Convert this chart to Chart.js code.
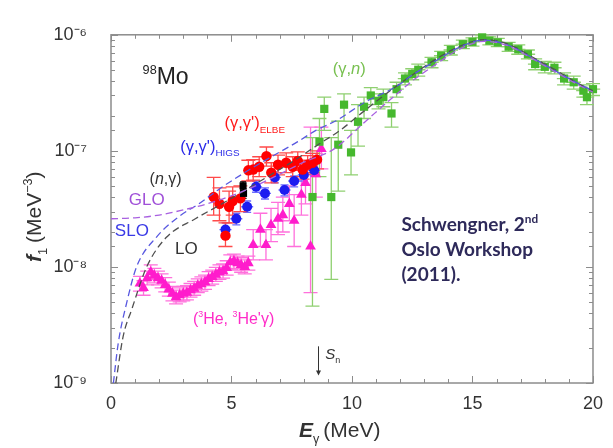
<!DOCTYPE html>
<html><head><meta charset="utf-8">
<script src="https://cdn.jsdelivr.net/npm/chart.js@4.4.1/dist/chart.umd.min.js"></script>
<style>html,body{margin:0;padding:0;background:#fff;}#c{display:block;}</style>
</head><body>
<canvas id="c" width="613" height="448"></canvas>
<script>
// ---------- data ----------
const xTickLabels = [0, 5, 10, 15, 20];
const yTickExps = [-9, -8, -7, -6];

// (gamma,n) photoabsorption
const gnE  = [8.36, 8.65, 8.85, 9.14, 9.43, 9.67, 9.96, 10.25, 10.5, 10.78, 11.1, 11.3, 11.64, 11.85, 12.2, 12.5, 12.75, 13.3, 13.7, 14.1, 14.6, 15.0, 15.4, 15.7, 16.05, 16.5, 16.9, 17.3, 17.6, 18.0, 18.4, 18.8, 19.2, 19.6, 19.75, 20.0];
const gnF  = [4.0e-8, 1.2e-7, 2.3e-7, 4.0e-8, 1.13e-7, 2.5e-7, 9.7e-8, 1.78e-7, 2.4e-7, 3.0e-7, 2.7e-7, 2.9e-7, 2.1e-7, 3.4e-7, 4.2e-7, 4.6e-7, 5.0e-7, 5.8e-7, 6.6e-7, 7.4e-7, 8.3e-7, 8.7e-7, 9.5e-7, 8.9e-7, 8.6e-7, 7.9e-7, 7.5e-7, 6.8e-7, 5.6e-7, 5.3e-7, 5.2e-7, 4.2e-7, 3.9e-7, 3.3e-7, 2.9e-7, 3.4e-7];
const gnLo = [4.6e-9, 6.0e-8, 1.5e-7, 7.8e-9, 4.5e-8, 1.8e-7, 6.2e-8, 1.1e-7, 1.9e-7, 2.5e-7, 2.3e-7, 2.4e-7, 1.6e-7, 2.9e-7, 3.7e-7, 4.1e-7, 4.4e-7, 5.2e-7, 6.0e-7, 6.7e-7, 7.6e-7, 8.0e-7, 8.8e-7, 8.2e-7, 7.9e-7, 7.2e-7, 6.8e-7, 6.2e-7, 5.0e-7, 4.7e-7, 4.6e-7, 3.7e-7, 3.4e-7, 2.9e-7, 2.5e-7, 3.0e-7];
const gnHi = [1.3e-7, 1.9e-7, 2.9e-7, 1.3e-7, 1.8e-7, 3.1e-7, 1.5e-7, 2.5e-7, 2.9e-7, 3.5e-7, 3.1e-7, 3.4e-7, 2.6e-7, 3.9e-7, 4.7e-7, 5.1e-7, 5.6e-7, 6.4e-7, 7.2e-7, 8.1e-7, 9.0e-7, 9.4e-7, 1.0e-6, 9.6e-7, 9.3e-7, 8.6e-7, 8.2e-7, 7.4e-7, 6.2e-7, 5.9e-7, 5.8e-7, 4.7e-7, 4.4e-7, 3.7e-7, 3.3e-7, 3.8e-7];
const gnDE = [0, 0, 0, 0, 0, 0, 0, 0, 0, 0, 0, 0, 0, 0.3, 0.3, 0.3, 0.3, 0.3, 0.3, 0.3, 0.3, 0.3, 0.3, 0.3, 0.3, 0.3, 0.3, 0.3, 0.3, 0.3, 0.3, 0.3, 0.3, 0.3, 0.3, 0.3];

// (gamma,gamma') ELBE
const elbeE  = [4.26, 4.5, 4.75, 4.9, 5.05, 5.37, 5.7, 5.9, 6.15, 6.45, 6.65, 6.93, 7.27, 7.54, 7.75, 7.95, 8.16, 8.36, 8.55];
const elbeF  = [4.0e-8, 3.5e-8, 1.86e-8, 3.3e-8, 3.7e-8, 3.9e-8, 6.8e-8, 6.9e-8, 7.3e-8, 9.0e-8, 6.5e-8, 7.6e-8, 7.9e-8, 7.3e-8, 8.2e-8, 6.9e-8, 7.6e-8, 7.9e-8, 8.4e-8];
const elbeLo = [2.8e-8, 2.5e-8, 1.5e-8, 2.4e-8, 2.8e-8, 3.0e-8, 5.5e-8, 5.6e-8, 6.0e-8, 7.4e-8, 5.3e-8, 6.2e-8, 6.5e-8, 6.0e-8, 6.8e-8, 5.7e-8, 6.3e-8, 6.5e-8, 7.0e-8];
const elbeHi = [5.9e-8, 4.8e-8, 2.4e-8, 4.5e-8, 4.9e-8, 5.0e-8, 8.3e-8, 8.4e-8, 8.9e-8, 1.08e-7, 7.9e-8, 9.2e-8, 9.6e-8, 8.9e-8, 9.8e-8, 8.3e-8, 9.1e-8, 9.5e-8, 1.0e-7];

// (gamma,gamma') HIGS
const higsE  = [4.75, 5.2, 5.65, 6.02, 6.39, 6.8, 7.2, 7.6, 8.0, 8.43];
const higsF  = [2.1e-8, 2.6e-8, 3.3e-8, 4.9e-8, 4.3e-8, 5.9e-8, 4.6e-8, 5.5e-8, 6.2e-8, 6.8e-8];
const higsLo = [1.85e-8, 2.3e-8, 2.95e-8, 4.4e-8, 3.85e-8, 5.3e-8, 4.1e-8, 4.9e-8, 5.5e-8, 6.1e-8];
const higsHi = [2.4e-8, 2.9e-8, 3.7e-8, 5.5e-8, 4.8e-8, 6.6e-8, 5.1e-8, 6.1e-8, 6.9e-8, 7.6e-8];
const higsDE = [0.25, 0.25, 0.25, 0.25, 0.25, 0.25, 0.25, 0.25, 0.25, 0.25];

// (n,gamma)
const ngE  = [5.48, 5.5];
const ngF  = [5.0e-8, 4.3e-8];
const ngLo = [4.6e-8, 3.9e-8];
const ngHi = [5.4e-8, 4.7e-8];

// (3He,3He'gamma)
const he3E  = [1.2, 1.35, 1.5, 1.65, 1.8, 1.95, 2.1, 2.25, 2.4, 2.55, 2.7, 2.85, 3.0, 3.15, 3.3, 3.45, 3.6, 3.75, 3.9, 4.05, 4.2, 4.35, 4.5, 4.65, 4.8, 4.95, 5.1, 5.25, 5.4, 5.55, 5.7, 5.9, 6.2, 6.43, 6.64, 6.93, 7.13, 7.4, 7.6, 7.9, 8.07, 8.28, 8.5, 8.73];
const he3F  = [7.2e-9, 6.6e-9, 8.0e-9, 9.0e-9, 8.4e-9, 8.0e-9, 7.6e-9, 7.0e-9, 6.4e-9, 5.9e-9, 5.5e-9, 5.7e-9, 5.9e-9, 6.0e-9, 6.3e-9, 6.5e-9, 6.9e-9, 7.1e-9, 7.4e-9, 7.9e-9, 8.2e-9, 8.6e-9, 9.0e-9, 9.2e-9, 9.8e-9, 1.1e-8, 1.12e-8, 1.08e-8, 1.04e-8, 1.0e-8, 1.08e-8, 1.55e-8, 2.1e-8, 1.55e-8, 2.3e-8, 2.6e-8, 2.8e-8, 3.5e-8, 2.5e-8, 4.2e-8, 5.3e-8, 1.5e-8, 6.3e-8, 1.04e-7];
const he3Lo = [6.2e-9, 5.7e-9, 7.0e-9, 7.8e-9, 7.3e-9, 7.0e-9, 6.6e-9, 6.1e-9, 5.6e-9, 5.1e-9, 4.8e-9, 5.0e-9, 5.1e-9, 5.2e-9, 5.5e-9, 5.7e-9, 6.0e-9, 6.2e-9, 6.4e-9, 6.9e-9, 7.1e-9, 7.5e-9, 7.8e-9, 8.0e-9, 8.5e-9, 9.6e-9, 9.7e-9, 9.4e-9, 9.0e-9, 8.7e-9, 9.4e-9, 1.15e-8, 1.5e-8, 1.15e-8, 1.65e-8, 1.9e-8, 2.0e-8, 2.5e-8, 1.5e-8, 2.8e-8, 3.5e-8, 6.0e-9, 4.0e-8, 7.0e-8];
const he3Hi = [8.3e-9, 7.6e-9, 9.2e-9, 1.04e-8, 9.7e-9, 9.2e-9, 8.7e-9, 8.1e-9, 7.4e-9, 6.8e-9, 6.3e-9, 6.6e-9, 6.8e-9, 6.9e-9, 7.2e-9, 7.5e-9, 7.9e-9, 8.2e-9, 8.5e-9, 9.1e-9, 9.4e-9, 9.9e-9, 1.04e-8, 1.06e-8, 1.13e-8, 1.27e-8, 1.29e-8, 1.24e-8, 1.2e-8, 1.15e-8, 1.24e-8, 2.1e-8, 2.9e-8, 2.1e-8, 3.2e-8, 3.6e-8, 4.0e-8, 5.0e-8, 4.2e-8, 6.0e-8, 8.0e-8, 1.6e-7, 9.5e-8, 1.6e-7];

// model curves
const gloE = [0, 1, 2, 3, 4, 5, 6, 7, 8, 9.26, 10.5, 11.7, 12.5, 13.5, 14.5, 15.5, 16.5, 17.5, 18.5, 19.5, 20];
const gloF = [2.6e-8, 2.65e-8, 2.8e-8, 3.1e-8, 3.5e-8, 4.1e-8, 5.0e-8, 6.3e-8, 8.0e-8, 1.04e-7, 1.75e-7, 2.9e-7, 4.0e-7, 5.6e-7, 7.6e-7, 8.8e-7, 8.0e-7, 6.2e-7, 4.7e-7, 3.6e-7, 3.2e-7];
const sloE = [0.1, 0.3, 0.65, 1.06, 1.88, 2.8, 3.65, 4.5, 5.7, 6.7, 7.75, 8.5, 9.4, 10.5, 11.85, 12.5, 13.5, 14.5, 15.5, 16.5, 17.5, 18.5, 19.5, 20];
const sloF = [1.0e-9, 2.2e-9, 4.9e-9, 1.0e-8, 1.8e-8, 2.7e-8, 3.5e-8, 4.7e-8, 6.8e-8, 9.0e-8, 1.2e-7, 1.5e-7, 1.85e-7, 2.6e-7, 3.6e-7, 4.5e-7, 6.0e-7, 7.9e-7, 9.0e-7, 8.1e-7, 6.3e-7, 4.8e-7, 3.7e-7, 3.3e-7];
const loE  = [0.2, 0.5, 0.86, 1.48, 2.3, 3.5, 4.5, 5.5, 6.5, 7.5, 8.65, 9.5, 10.5, 11.5, 12.5, 13.5, 14.5, 15.5, 16.5, 17.5, 18.5, 19.5, 20];
const loF  = [1.0e-9, 2.5e-9, 4.3e-9, 1.0e-8, 1.8e-8, 2.6e-8, 3.4e-8, 4.5e-8, 6.0e-8, 8.0e-8, 1.15e-7, 1.5e-7, 2.2e-7, 3.2e-7, 4.5e-7, 6.2e-7, 8.0e-7, 9.1e-7, 8.3e-7, 6.4e-7, 4.9e-7, 3.7e-7, 3.3e-7];

// ---------- helpers ----------
function pts(E, F, Lo, Hi, DE) {
  return E.map((e, i) => ({ x: e, y: F[i], yMin: Lo ? Lo[i] : null, yMax: Hi ? Hi[i] : null, dx: DE ? DE[i] : 0 }));
}
const SUP = { '-': '\u207B', '0': '\u2070', '1': '\u00B9', '2': '\u00B2', '3': '\u00B3', '4': '\u2074', '5': '\u2075', '6': '\u2076', '7': '\u2077', '8': '\u2078', '9': '\u2079' };
function isPow10(v) { const l = Math.log10(v); return Math.abs(l - Math.round(l)) < 1e-6; }
const FAM = '"Liberation Sans", Arial, sans-serif';

function drawRich(ctx, x, y, segs, size, color, family) {
  let cx = x;
  ctx.fillStyle = color;
  ctx.textBaseline = 'alphabetic';
  ctx.textAlign = 'left';
  for (const s of segs) {
    const small = s.s === 'sup' || s.s === 'sub';
    const fs = size * (s.k || (small ? 0.62 : 1));
    ctx.font = (s.i ? 'italic ' : '') + (s.b ? 'bold ' : '') + fs.toFixed(1) + 'px ' + (s.f || family);
    const dy = s.s === 'sup' ? -size * 0.45 : (s.s === 'sub' ? size * 0.28 : 0);
    ctx.fillText(s.t, cx, y + dy);
    cx += ctx.measureText(s.t).width + (s.g || 0);
  }
  return cx;
}

// ---------- plugins ----------
const frame = {
  id: 'frame',
  beforeDatasetsDraw(chart) {
    const { ctx, chartArea: a, scales: { x, y } } = chart;
    ctx.save();
    ctx.strokeStyle = '#8c8c8c';
    ctx.lineWidth = 1.5;
    ctx.strokeRect(a.left, a.top, a.right - a.left, a.bottom - a.top);
    ctx.lineWidth = 1;
    ctx.beginPath();
    x.ticks.forEach(t => {
      const px = Math.round(x.getPixelForValue(t.value)) + 0.5;
      const L = xTickLabels.includes(t.value) ? 7 : 4;
      ctx.moveTo(px, a.bottom); ctx.lineTo(px, a.bottom - L);
      ctx.moveTo(px, a.top); ctx.lineTo(px, a.top + L);
    });
    y.ticks.forEach(t => {
      const py = Math.round(y.getPixelForValue(t.value)) + 0.5;
      const L = isPow10(t.value) ? 7 : 4;
      ctx.moveTo(a.left, py); ctx.lineTo(a.left + L, py);
      ctx.moveTo(a.right, py); ctx.lineTo(a.right - L, py);
    });
    ctx.stroke();
    ctx.restore();
  }
};

const errorBars = {
  id: 'errorBars',
  beforeDatasetsDraw(chart) {
    const { ctx, scales: { x, y } } = chart;
    ctx.save();
    chart.data.datasets.forEach((ds, di) => {
      if (!ds.errColor || !chart.isDatasetVisible(di)) return;
      ctx.strokeStyle = ds.errColor;
      ctx.lineWidth = 1.3;
      const c = ds.capW / 2;
      ds.data.forEach(p => {
        const px = x.getPixelForValue(p.x), py = y.getPixelForValue(p.y);
        ctx.beginPath();
        if (p.yMin != null) {
          const y1 = y.getPixelForValue(p.yMin), y2 = y.getPixelForValue(p.yMax);
          ctx.moveTo(px, y1); ctx.lineTo(px, y2);
          ctx.moveTo(px - c, y1); ctx.lineTo(px + c, y1);
          ctx.moveTo(px - c, y2); ctx.lineTo(px + c, y2);
        }
        if (p.dx) {
          const x1 = x.getPixelForValue(p.x - p.dx), x2 = x.getPixelForValue(p.x + p.dx);
          ctx.moveTo(x1, py); ctx.lineTo(x2, py);
        }
        ctx.stroke();
      });
    });
    ctx.restore();
  }
};

// text annotations placed in data coordinates
const notes = [
  { E: 1.31, f: 3.77e-7, size: 23, color: '#222', segs: [{ t: '98', s: 'sup', k: 0.55 }, { t: 'Mo' }] },
  { E: 9.2, f: 4.57e-7, size: 16.5, color: '#78c050', segs: [{ t: '(\u03B3,' }, { t: 'n', i: true }, { t: ')' }] },
  { E: 4.71, f: 1.56e-7, size: 16.5, color: '#ff1a1a', segs: [{ t: '(\u03B3,\u03B3\')' }, { t: 'ELBE', s: 'sub', k: 0.6 }] },
  { E: 2.87, f: 9.87e-8, size: 16.5, color: '#2a2ae8', segs: [{ t: '(\u03B3,\u03B3\')' }, { t: 'HIGS', s: 'sub', k: 0.6 }] },
  { E: 1.60, f: 5.15e-8, size: 16, color: '#333', segs: [{ t: '(' }, { t: 'n', i: true }, { t: ',\u03B3)' }] },
  { E: 0.74, f: 3.39e-8, size: 17, color: '#a050d8', segs: [{ t: 'GLO' }] },
  { E: 0.16, f: 1.83e-8, size: 17, color: '#3a3ae6', segs: [{ t: 'SLO' }] },
  { E: 2.66, f: 1.30e-8, size: 17, color: '#333', segs: [{ t: 'LO' }] },
  { E: 3.40, f: 3.21e-9, size: 16, color: '#ff2cc8', segs: [{ t: '(' }, { t: '3', s: 'sup', k: 0.55 }, { t: 'He, ' }, { t: '3', s: 'sup', k: 0.55 }, { t: 'He\'\u03B3)' }] },
  { E: 8.89, f: 1.62e-9, size: 15, color: '#333', segs: [{ t: 'S', i: true }, { t: 'n', s: 'sub', k: 0.6 }] },
  { E: 12.05, f: 2.02e-8, size: 19, color: '#2e2a5a', fam: 'Lato, "Open Sans", sans-serif', segs: [{ t: 'Schwengner, 2', b: true }, { t: 'nd', s: 'sup', b: true, k: 0.62 }] },
  { E: 12.05, f: 1.25e-8, size: 19, color: '#2e2a5a', fam: 'Lato, "Open Sans", sans-serif', segs: [{ t: 'Oslo Workshop', b: true }] },
  { E: 12.05, f: 7.59e-9, size: 19, color: '#2e2a5a', fam: 'Lato, "Open Sans", sans-serif', segs: [{ t: '(2011).', b: true }] }
];
const snArrow = { E: 8.6, fTop: 2.07e-9, fBot: 1.16e-9 };

const annotations = {
  id: 'annotations',
  afterDraw(chart) {
    const { ctx, scales: { x, y } } = chart;
    ctx.save();
    notes.forEach(n => {
      drawRich(ctx, x.getPixelForValue(n.E), y.getPixelForValue(n.f), n.segs, n.size, n.color, n.fam || FAM);
    });
    // S_n arrow
    const ax = Math.round(x.getPixelForValue(snArrow.E)) + 0.5;
    const y1 = y.getPixelForValue(snArrow.fTop), y2 = y.getPixelForValue(snArrow.fBot);
    ctx.strokeStyle = '#333'; ctx.lineWidth = 1;
    ctx.beginPath(); ctx.moveTo(ax, y1); ctx.lineTo(ax, y2 - 3); ctx.stroke();
    ctx.fillStyle = '#333';
    ctx.beginPath(); ctx.moveTo(ax - 2.5, y2 - 5); ctx.lineTo(ax + 2.5, y2 - 5); ctx.lineTo(ax, y2); ctx.closePath(); ctx.fill();

    // axis titles
    drawRich(ctx, 299, 437, [{ t: 'E', b: true, i: true }, { t: '\u03B3', s: 'sub', k: 0.6, g: 4 }, { t: '(MeV)' }], 21, '#333', FAM);
    ctx.translate(41, 262);
    ctx.rotate(-Math.PI / 2);
    drawRich(ctx, 0, 0, [{ t: 'f', b: true, i: true }, { t: '1', s: 'sub', k: 0.6, g: 5 }, { t: '(MeV' }, { t: '\u22123', s: 'sup', k: 0.6 }, { t: ')' }], 21, '#333', FAM);
    ctx.restore();
  }
};

// ---------- chart ----------
const curveStyle = { type: 'line', showLine: true, pointRadius: 0, borderWidth: 1.3, borderDash: [7, 4], fill: false, cubicInterpolationMode: 'monotone', order: 0 };

new Chart(document.getElementById('c'), {
  type: 'scatter',
  data: {
    datasets: [
      Object.assign({ label: 'GLO', data: pts(gloE, gloF), borderColor: '#a860e0' }, curveStyle),
      Object.assign({ label: 'SLO', data: pts(sloE, sloF), borderColor: '#5858e0' }, curveStyle),
      Object.assign({ label: 'LO', data: pts(loE, loF), borderColor: '#505050' }, curveStyle),
      { label: "(3He,3He'γ)", data: pts(he3E, he3F, he3Lo, he3Hi), pointStyle: 'triangle', pointRadius: 6.2, backgroundColor: '#ff1ccc', borderColor: '#ff1ccc', borderWidth: 0, errColor: '#ff70dc', capW: 14, order: 5, clip: false },
      { label: '(γ,n)', data: pts(gnE, gnF, gnLo, gnHi, gnDE), pointStyle: 'rect', pointRadius: 5.8, backgroundColor: '#46b82e', borderColor: '#46b82e', borderWidth: 0, errColor: '#8fd070', capW: 14, order: 4, clip: false },
      { label: "(γ,γ')HIGS", data: pts(higsE, higsF, higsLo, higsHi, higsDE), pointStyle: 'circle', pointRadius: 5, backgroundColor: '#1c1cf0', borderColor: '#1c1cf0', borderWidth: 0, errColor: '#6a6aff', capW: 8, order: 3, clip: false },
      { label: "(γ,γ')ELBE", data: pts(elbeE, elbeF, elbeLo, elbeHi), pointStyle: 'circle', pointRadius: 5.2, backgroundColor: '#ff0000', borderColor: '#ff0000', borderWidth: 0, errColor: '#ff4a4a', capW: 14, order: 2, clip: false },
      { label: '(n,γ)', data: pts(ngE, ngF, ngLo, ngHi), pointStyle: 'rect', pointRadius: 5, backgroundColor: '#000', borderColor: '#000', borderWidth: 0, errColor: '#000', capW: 6, order: 1, clip: false }
    ]
  },
  options: {
    responsive: false,
    animation: false,
    devicePixelRatio: 1,
    layout: { padding: { left: 0, right: 14, top: 22, bottom: 0 } },
    plugins: { legend: { display: false }, tooltip: { enabled: false } },
    scales: {
      x: {
        type: 'linear', min: 0, max: 20,
        grid: { display: false, drawTicks: false },
        border: { display: false },
        ticks: {
          stepSize: 1, autoSkip: false, maxRotation: 0, padding: 10,
          color: '#333', font: { family: FAM, size: 18 },
          callback: v => xTickLabels.includes(v) ? String(v) : ''
        },
        afterFit: s => { s.height = 65; }
      },
      y: {
        type: 'logarithmic', min: 1e-9, max: 1e-6,
        grid: { display: false, drawTicks: false },
        border: { display: false },
        ticks: {
          autoSkip: false, padding: 24,
          color: '#333', font: { family: FAM, size: 18 },
          callback: v => {
            if (!isPow10(v)) return '';
            const e = Math.round(Math.log10(v));
            if (!yTickExps.includes(e)) return '';
            return '10' + String(e).split('').map(c => SUP[c]).join('');
          }
        },
        afterFit: s => { s.width = 111; }
      }
    }
  },
  plugins: [frame, errorBars, annotations]
});
</script>
</body></html>
